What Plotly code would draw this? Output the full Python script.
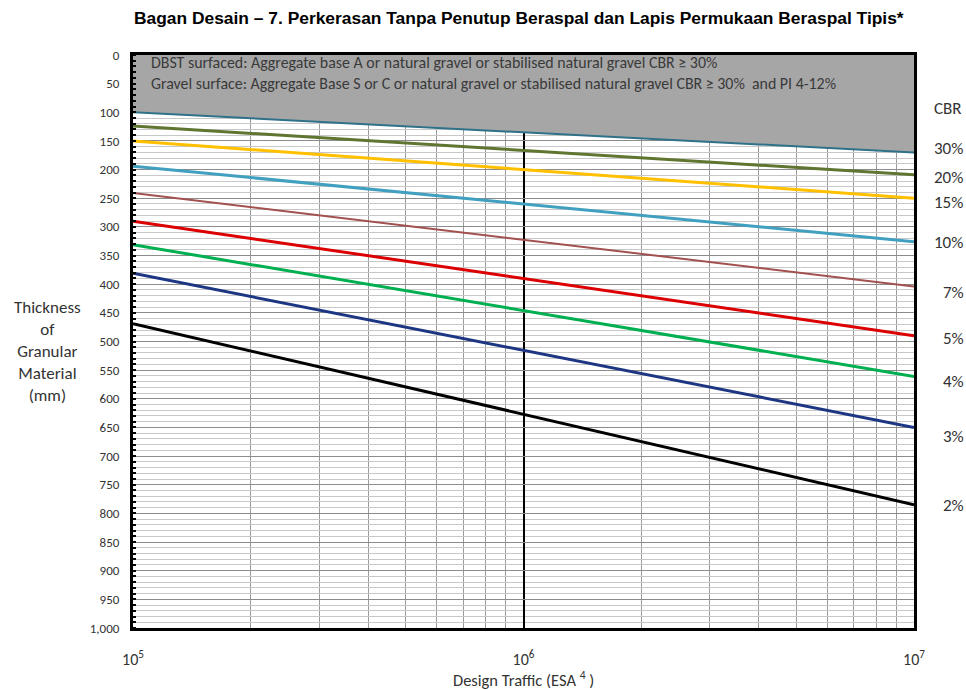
import plotly.graph_objects as go

# ---- data ----
cbr_labels = ["30%", "20%", "15%", "10%", "7%", "5%", "4%", "3%", "2%"]
traffic = [1e5, 1e7]
thick_start = [100, 124, 150, 194, 241, 290, 331, 381, 469]
thick_end = [170, 209, 250, 326, 404, 490, 561, 650, 785]
line_colors = ["#2f7189", "#5f7530", "#ffc000", "#41a0bf", "#a2514f",
               "#dc0000", "#00b050", "#1c3683", "#000000"]
line_widths = [2, 3, 3, 3, 2, 3, 3, 3, 3]
label_y = [164, 213, 258, 328, 415, 494, 569, 665, 787]

y_ticks = list(range(0, 1001, 50))
y_ticktext = [f"{v:,}" for v in y_ticks]
x_major = [1e5, 1e6, 1e7]
x_major_text = ["10<sup>5</sup>", "10<sup>6</sup>", "10<sup>7</sup>"]
x_minor = [k * 10 ** d for d in (5, 6) for k in range(2, 10)]

FONT = "Carlito, Lato, 'Open Sans', sans-serif"
TXT = "#333333"

fig = go.Figure()

# grey shaded zone above the CBR 30% line
fig.add_trace(go.Scatter(x=traffic, y=[0, 0], mode="lines",
                         line=dict(width=0, color="#a6a6a6"),
                         showlegend=False, hoverinfo="skip"))
fig.add_trace(go.Scatter(x=traffic, y=[thick_start[0], thick_end[0]], mode="lines",
                         fill="tonexty", fillcolor="#a6a6a6",
                         line=dict(width=0), showlegend=False, hoverinfo="skip"))

for lab, s, e, c, w in zip(cbr_labels, thick_start, thick_end, line_colors, line_widths):
    fig.add_trace(go.Scatter(x=traffic, y=[s, e], mode="lines", name="CBR " + lab,
                             line=dict(color=c, width=w), showlegend=False))

fig.update_xaxes(type="log", range=[5, 7], tickvals=x_major, ticktext=x_major_text,
                 showgrid=True, gridcolor="#000000", gridwidth=1.5,
                 minor=dict(tickvals=x_minor, showgrid=True, gridcolor="#9a9a9a",
                            gridwidth=1, ticks=""),
                 ticks="", ticklabelstandoff=15, automargin=False,
                 tickfont=dict(family=FONT, size=16, color=TXT),
                 showline=True, linecolor="#000000", linewidth=3, mirror=True,
                 zeroline=False, layer="below traces")
fig.update_yaxes(range=[1000, 0], tickvals=y_ticks, ticktext=y_ticktext,
                 showgrid=True, gridcolor="#8c8c8c", gridwidth=1,
                 minor=dict(dtick=10, showgrid=True, gridcolor="#c8c8c8",
                            ticks="inside", ticklen=3, tickcolor="#000000", tickwidth=2),
                 ticks="", tickfont=dict(family=FONT, size=13, color=TXT),
                 ticklabelstandoff=8, automargin=False,
                 showline=True, linecolor="#000000", linewidth=3, mirror=True,
                 zeroline=False)

ann = []
ann.append(dict(xref="paper", yref="y", x=0.021, y=32, xanchor="left", yanchor="middle",
                showarrow=False, align="left",
                text="DBST surfaced: Aggregate base A or natural gravel or stabilised natural gravel CBR ≥ 30%<br>"
                     "Gravel surface: Aggregate Base S or C or natural gravel or stabilised natural gravel CBR ≥ 30%  and PI 4-12%",
                font=dict(family=FONT, size=15.9, color="#3a3a3a")))
ann.append(dict(xref="paper", yref="y", x=1.043, y=94, xanchor="center", showarrow=False,
                text="CBR", font=dict(family=FONT, size=17, color=TXT)))
for lab, ly in zip(cbr_labels, label_y):
    ann.append(dict(xref="paper", yref="y", x=1.044 if len(lab) == 3 else 1.05, y=ly,
                    xanchor="center", showarrow=False, text=lab,
                    font=dict(family=FONT, size=17, color=TXT)))
ann.append(dict(xref="paper", yref="paper", x=-0.109, y=0.482, xanchor="center",
                yanchor="middle", showarrow=False, align="center",
                text="Thickness<br>of<br>Granular<br>Material<br>(mm)",
                font=dict(family=FONT, size=17, color=TXT)))
ann.append(dict(xref="paper", yref="paper", x=0.5, y=-0.089, xanchor="center",
                yanchor="middle", showarrow=False,
                text="Design Traffic (ESA <sup>4</sup> )",
                font=dict(family=FONT, size=16.5, color=TXT)))

fig.update_layout(
    width=966, height=690,
    margin=dict(l=133, r=52, t=55, b=62),
    paper_bgcolor="white", plot_bgcolor="white",
    title=dict(text="<b>Bagan Desain – 7. Perkerasan Tanpa Penutup Beraspal dan Lapis Permukaan Beraspal Tipis*</b>",
               x=0.494, xref="paper", xanchor="center", y=0.974, yanchor="middle",
               font=dict(family="'Liberation Sans Narrow', 'Arial Narrow', 'Liberation Sans', sans-serif",
                         size=17.4, color="#000000")),
    annotations=ann,
)

fig.write_html("out.html", config={"displayModeBar": False},
               post_script="document.body.style.margin='0px';document.body.style.overflow='hidden';")
